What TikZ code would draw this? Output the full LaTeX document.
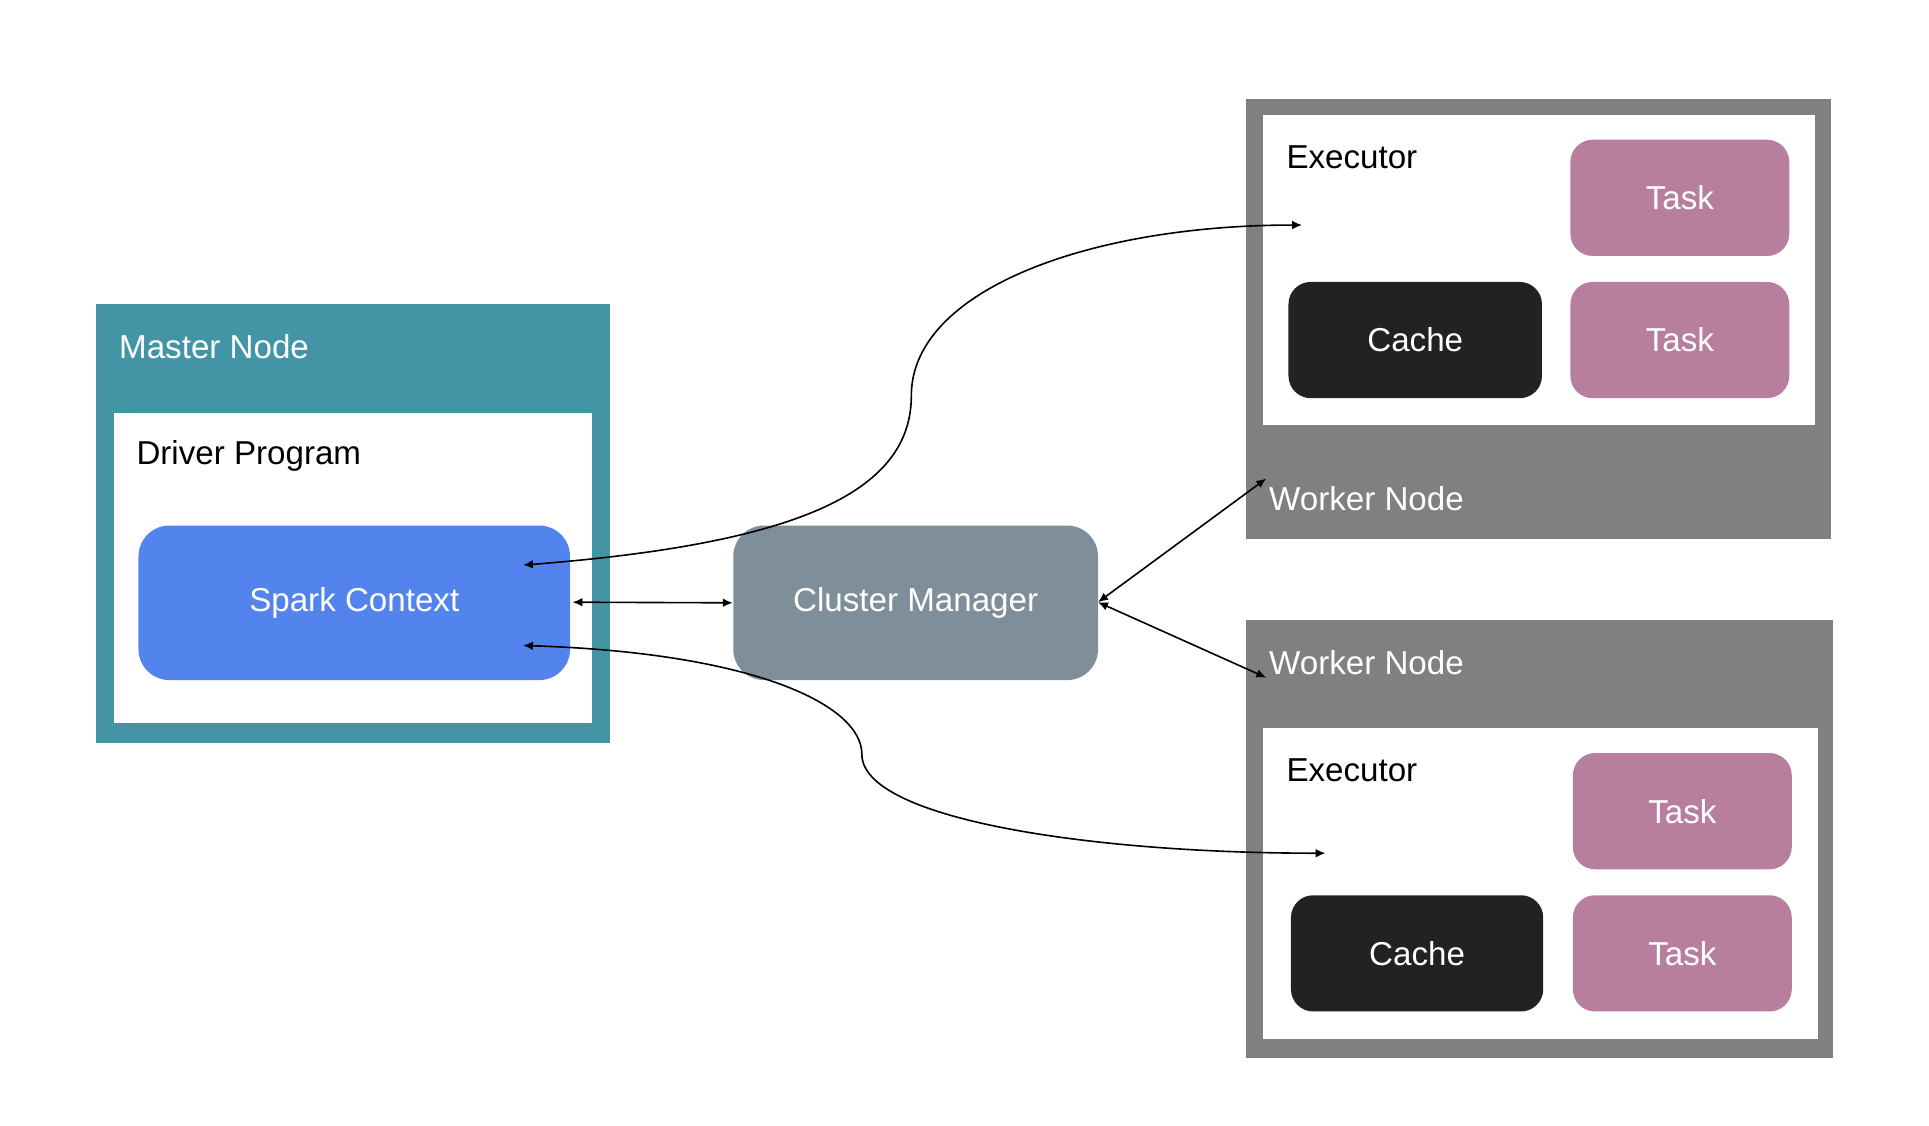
\documentclass[tikz,border=0pt]{standalone}
\usepackage{fontspec}
\setmainfont{Liberation Sans}
\usetikzlibrary{arrows.meta}
\definecolor{teal}{HTML}{4395A6}
\definecolor{spark}{HTML}{5383EC}
\definecolor{clus}{HTML}{7E8F9A}
\definecolor{wgray}{HTML}{808080}
\definecolor{cachec}{HTML}{222222}
\definecolor{taskc}{HTML}{B77F9D}
\begin{document}
\begin{tikzpicture}[x=0.5pt,y=-0.5pt,
  font=\fontsize{13.4}{16}\selectfont,
  box/.style={rectangle,inner sep=0pt,draw=none},
  rbox/.style={box,rounded corners=9pt,text=white},
  lbl/.style={inner sep=0pt,anchor=west},
  conn/.style={line width=0.65pt,{Latex[length=4pt,width=3.5pt]}-{Latex[length=4pt,width=3.5pt]}}]
\useasboundingbox (0,0) rectangle (1560,910);
% master
\node[box,fill=teal,minimum width=207.5pt,minimum height=177.5pt] (master) at (285.5,423.5) {};
\node[box,fill=white,minimum width=193.5pt,minimum height=125.5pt] (driver) at (285.5,459.5) {};
\node[lbl,text=white] (mlbl) at (96,280) {Master Node};
\node[lbl] (dlbl) at (110,369) {Driver Program};
\node[rbox,rounded corners=12.5pt,fill=spark,minimum width=174.5pt,minimum height=62.5pt] (sc) at (286.5,487.5) {Spark Context};
% cluster
\node[rbox,rounded corners=12.5pt,fill=clus,minimum width=147.5pt,minimum height=62.5pt] (cm) at (740.5,487.5) {Cluster Manager};
% worker 1
\node[box,fill=wgray,minimum width=236.5pt,minimum height=178pt] (w1) at (1244.5,258) {};
\node[box,fill=white,minimum width=223.5pt,minimum height=125.5pt] (e1) at (1244.5,218.5) {};
\node[lbl] (e1lbl) at (1040,127) {Executor};
\node[lbl,text=white] (w1lbl) at (1026,403) {Worker Node};
\node[rbox,fill=taskc,minimum width=88.5pt,minimum height=47pt] (t1) at (1358.5,160) {Task};
\node[rbox,fill=cachec,minimum width=102.5pt,minimum height=47pt] (c1) at (1144.5,275) {Cache};
\node[rbox,fill=taskc,minimum width=88.5pt,minimum height=47pt] (t2) at (1358.5,275) {Task};
% worker 2
\node[box,fill=wgray,minimum width=237pt,minimum height=177.5pt] (w2) at (1245,678.5) {};
\node[box,fill=white,minimum width=224.5pt,minimum height=125.5pt] (e2) at (1245.5,714.5) {};
\node[lbl] (e2lbl) at (1040,623) {Executor};
\node[lbl,text=white] (w2lbl) at (1026,536) {Worker Node};
\node[rbox,fill=taskc,minimum width=88.5pt,minimum height=47pt] (t3) at (1360.5,656) {Task};
\node[rbox,fill=cachec,minimum width=102pt,minimum height=47pt] (c2) at (1146,771) {Cache};
\node[rbox,fill=taskc,minimum width=88.5pt,minimum height=47pt] (t4) at (1360.5,771) {Task};
% connector end points
\coordinate (scA) at (423,457);
\coordinate (scB) at (423,522);
\coordinate (ex1) at (1053,182);
\coordinate (ex2) at (1072,690);
\coordinate (wn1) at (1024,387);
\coordinate (wn2) at (1024,548);
\coordinate (cmE) at (888,487);
\coordinate (scE) at (463,487);
% connectors
\draw[conn] (scE) -- (cm.west);
\draw[conn] (cmE) -- (wn1);
\draw[conn] (cmE) -- (wn2);
\draw[conn] (scA) .. controls (640,440) and (737,400) .. (737,320)
  .. controls (737,235) and (880,182) .. (ex1);
\draw[conn] (scB) .. controls (610,528) and (697,570) .. (697,610)
  .. controls (697,662) and (880,690) .. (ex2);
\end{tikzpicture}
\end{document}
